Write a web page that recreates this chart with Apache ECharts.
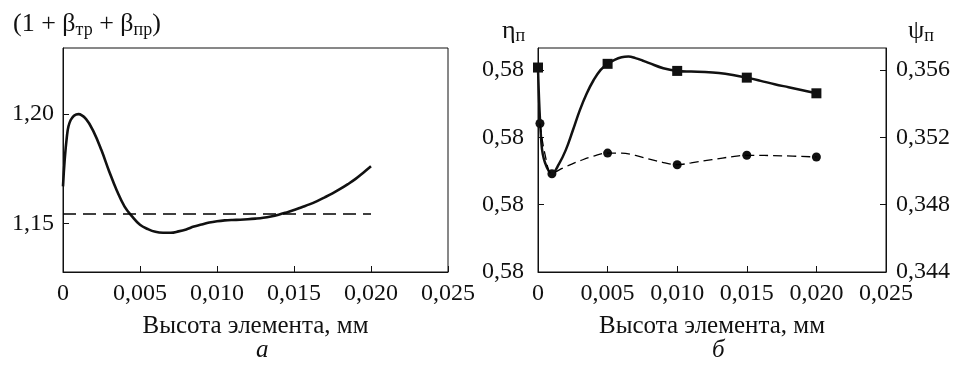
<!DOCTYPE html>
<html>
<head>
<meta charset="utf-8">
<script src="https://cdn.jsdelivr.net/npm/echarts@6/dist/echarts.min.js"></script>
<style>
  html, body { margin: 0; padding: 0; background: #fff; }
  #chart { width: 957px; height: 365px; }
</style>
</head>
<body>
<div id="chart"></div>
<script>
// --- панель а: (1 + β_тр + β_пр) ---
const leftCurveX = [0, 0.00025, 0.0005, 0.001, 0.0015, 0.002, 0.0025, 0.003, 0.0035, 0.004, 0.0045, 0.005, 0.0055, 0.006, 0.0065, 0.007, 0.0075, 0.008, 0.0085, 0.009, 0.0095, 0.010, 0.0105, 0.011, 0.0115, 0.012, 0.0125, 0.013, 0.0135, 0.014, 0.0145, 0.015, 0.0155, 0.016, 0.0165, 0.017, 0.0175, 0.018, 0.0185, 0.019, 0.0195, 0.020];
const leftCurveY = [1.1670, 1.1895, 1.1972, 1.1999, 1.1976, 1.1917, 1.1834, 1.1738, 1.1650, 1.1578, 1.1532, 1.1495, 1.1476, 1.1463, 1.1459, 1.1459, 1.1465, 1.1474, 1.1487, 1.1496, 1.1505, 1.1511, 1.1515, 1.1517, 1.1518, 1.1520, 1.1523, 1.1527, 1.1533, 1.1541, 1.1551, 1.1562, 1.1575, 1.1588, 1.1603, 1.1620, 1.1638, 1.1658, 1.1680, 1.1704, 1.1732, 1.1761];
const leftDashX = [0, 0.020];
const leftDashY = [1.1544, 1.1544];
const leftYTicks = [1.15, 1.20];

// --- панель б: η_п (сплошная, квадраты) и ψ_п (пунктир, кружки) ---
const etaCurveX = [0, 0.00025, 0.0005, 0.001, 0.0015, 0.002, 0.0025, 0.003, 0.0035, 0.004, 0.0045, 0.005, 0.0055, 0.006, 0.0065, 0.007, 0.0075, 0.008, 0.009, 0.010, 0.011, 0.012, 0.013, 0.014, 0.015, 0.016, 0.017, 0.018, 0.019, 0.020];
const etaCurveY = [0.35614, 0.3516, 0.3505, 0.34983, 0.3504, 0.35125, 0.3524, 0.3536, 0.3546, 0.3554, 0.356, 0.35636, 0.3566, 0.35675, 0.35679, 0.3567, 0.35656, 0.3564, 0.3561, 0.35594, 0.3559, 0.35588, 0.35582, 0.3557, 0.35554, 0.35535, 0.35515, 0.35497, 0.35479, 0.35461];
const etaMarkX = [0, 0.005, 0.010, 0.015, 0.020];
const etaMarkY = [0.35614, 0.35636, 0.35594, 0.35554, 0.35461];

const psiCurveX = [0.00014, 0.0005, 0.001, 0.0015, 0.002, 0.0025, 0.003, 0.004, 0.005, 0.006, 0.007, 0.008, 0.009, 0.010, 0.011, 0.0125, 0.014, 0.015, 0.0175, 0.020];
const psiCurveY = [0.35282, 0.3510, 0.34983, 0.35005, 0.35025, 0.35043, 0.3506, 0.35088, 0.35106, 0.35106, 0.35092, 0.3507, 0.3505, 0.35037, 0.35048, 0.35067, 0.35085, 0.35093, 0.3509, 0.35083];
const psiMarkX = [0.00014, 0.001, 0.005, 0.010, 0.015, 0.020];
const psiMarkY = [0.35282, 0.34983, 0.35106, 0.35037, 0.35093, 0.35083];

const rightYTicks = [0.344, 0.348, 0.352, 0.356];
const etaTickLabels = ['0,58', '0,58', '0,58', '0,58'];

const zip = (xs, ys) => xs.map((x, i) => [x, ys[i]]);

const FONT = '"Liberation Serif", "DejaVu Serif", serif';
const INK = '#111';

const xFmt = v => (v === 0 ? '0' : v.toFixed(3).replace('.', ','));

const makeX = (gridIndex) => ({
  type: 'value',
  gridIndex,
  min: 0,
  max: 0.025,
  interval: 0.005,
  name: 'Высота элемента, мм',
  nameLocation: 'middle',
  nameGap: 42,
  nameTextStyle: { fontFamily: FONT, fontSize: 25, color: INK },
  axisLine: { lineStyle: { color: INK, width: 1 } },
  axisTick: { inside: true, length: 6, lineStyle: { color: INK } },
  axisLabel: { fontFamily: FONT, fontSize: 24, color: INK, margin: 10, formatter: xFmt },
  splitLine: { show: false }
});

const subTitle = (text, left, top, size, sub, drop) => ({
  text, left, top,
  textStyle: {
    fontFamily: FONT, fontSize: size, color: INK, fontWeight: 'normal',
    rich: { s: { fontFamily: FONT, fontSize: sub, color: INK, padding: [drop, 0, 0, 0] } }
  }
});

const chart = echarts.init(document.getElementById('chart'));

chart.setOption({
  backgroundColor: '#fff',
  animation: false,
  title: [
    subTitle('(1 + β{s|тр} + β{s|пр})', 8, 4, 26, 18, 12),
    subTitle('η{s|п}', 497, 12, 26, 18, 10),
    subTitle('ψ{s|п}', 903, 12, 26, 18, 10),
    {
      text: 'а', left: 251, top: 333,
      textStyle: { fontFamily: FONT, fontSize: 25, color: INK, fontStyle: 'italic', fontWeight: 'normal' }
    },
    {
      text: 'б', left: 707, top: 333,
      textStyle: { fontFamily: FONT, fontSize: 25, color: INK, fontStyle: 'italic', fontWeight: 'normal' }
    }
  ],
  grid: [
    { left: 63, right: 509, top: 48, bottom: 93, show: true, borderColor: INK, borderWidth: 1 },
    { left: 538, right: 71, top: 48, bottom: 93, show: true, borderColor: INK, borderWidth: 1 }
  ],
  xAxis: [makeX(0), makeX(1)],
  yAxis: [
    {
      type: 'value', gridIndex: 0, min: 1.128, max: 1.23,
      axisLine: { show: true, lineStyle: { color: INK } },
      axisTick: { show: true, inside: true, length: 6, customValues: leftYTicks, lineStyle: { color: INK } },
      axisLabel: {
        fontFamily: FONT, fontSize: 24, color: INK, margin: 9, customValues: leftYTicks,
        formatter: v => v.toFixed(2).replace('.', ',')
      },
      splitLine: { show: false }
    },
    {
      type: 'value', gridIndex: 1, min: 0.344, max: 0.3573, position: 'left',
      axisLine: { show: true, lineStyle: { color: INK } },
      axisTick: { show: true, inside: true, length: 6, customValues: rightYTicks, lineStyle: { color: INK } },
      axisLabel: {
        fontFamily: FONT, fontSize: 24, color: INK, margin: 14, customValues: rightYTicks,
        formatter: (v) => etaTickLabels[rightYTicks.findIndex(t => Math.abs(t - v) < 1e-6)] || ''
      },
      splitLine: { show: false }
    },
    {
      type: 'value', gridIndex: 1, min: 0.344, max: 0.3573, position: 'right',
      axisLine: { show: true, lineStyle: { color: INK } },
      axisTick: { show: true, inside: true, length: 6, customValues: rightYTicks, lineStyle: { color: INK } },
      axisLabel: {
        fontFamily: FONT, fontSize: 24, color: INK, margin: 10, customValues: rightYTicks,
        formatter: v => v.toFixed(3).replace('.', ',')
      },
      splitLine: { show: false }
    }
  ],
  series: [
    {
      type: 'line', xAxisIndex: 0, yAxisIndex: 0, smooth: 0.4, showSymbol: false,
      lineStyle: { color: INK, width: 2.6 },
      data: zip(leftCurveX, leftCurveY)
    },
    {
      type: 'line', xAxisIndex: 0, yAxisIndex: 0, showSymbol: false,
      lineStyle: { color: '#000', width: 1.3, type: [13, 7] },
      data: zip(leftDashX, leftDashY)
    },
    {
      type: 'line', xAxisIndex: 1, yAxisIndex: 1, smooth: 0.4, showSymbol: false,
      lineStyle: { color: INK, width: 2.5 },
      data: zip(etaCurveX, etaCurveY)
    },
    {
      type: 'line', xAxisIndex: 1, yAxisIndex: 1, smooth: 0.4, showSymbol: false,
      lineStyle: { color: '#000', width: 1.3, type: [9, 5] },
      data: zip(psiCurveX, psiCurveY)
    },
    {
      type: 'scatter', xAxisIndex: 1, yAxisIndex: 1, symbol: 'rect', symbolSize: 10,
      itemStyle: { color: INK, opacity: 1 },
      data: zip(etaMarkX, etaMarkY)
    },
    {
      type: 'scatter', xAxisIndex: 1, yAxisIndex: 1, symbol: 'circle', symbolSize: 9,
      itemStyle: { color: INK, opacity: 1 },
      data: zip(psiMarkX, psiMarkY)
    }
  ]
});
</script>
</body>
</html>
